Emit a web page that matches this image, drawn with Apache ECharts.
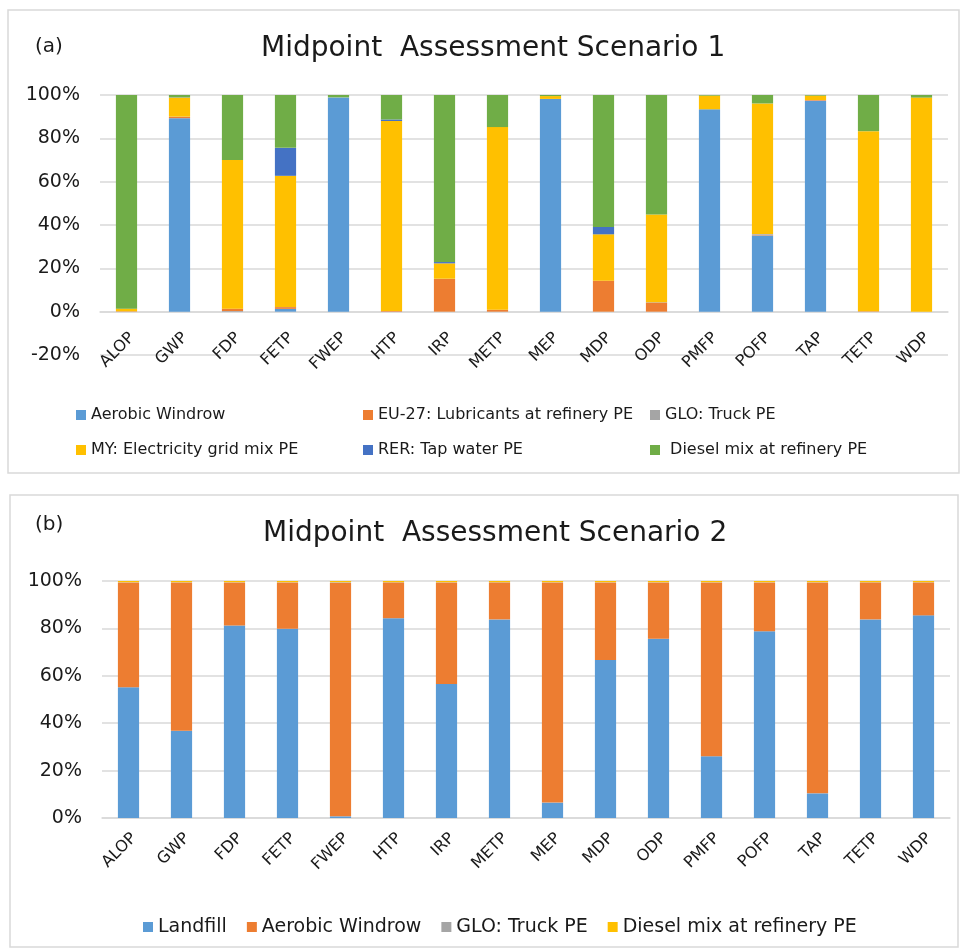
<!DOCTYPE html>
<html>
<head>
<meta charset="utf-8">
<script src="https://cdn.jsdelivr.net/npm/echarts@6/dist/echarts.min.js"></script>
<style>
  html, body { margin: 0; padding: 0; background: #fff; }
  #a { position: absolute; left: 0; top: 0; width: 964px; height: 480px; }
  #b { position: absolute; left: 0; top: 480px; width: 964px; height: 469px; }
</style>
</head>
<body>
<div id="a"></div>
<div id="b"></div>
<script>
// ---- Data ----
const categories = ['ALOP', 'GWP', 'FDP', 'FETP', 'FWEP', 'HTP', 'IRP', 'METP', 'MEP', 'MDP', 'ODP', 'PMFP', 'POFP', 'TAP', 'TETP', 'WDP'];

// Scenario 1 (percent of total)
const s1Aerobic  = [0, 89.3, 0.2, 1.3, 98.9, 0, 0, 0, 98.2, 0, 0, 93.4, 35.2, 97.4, 0, 0];
const s1Lubric   = [0.2, 0.6, 1.2, 0.8, 0, 0.3, 15.1, 0.9, 0, 14.3, 4.2, 0, 0.3, 0.3, 0.2, 0];
const s1Truck    = [0, 0.1, 0, 0.1, 0, 0, 0.1, 0, 0, 0, 0.2, 0, 0.3, 0, 0, 0];
const s1Elec     = [1.2, 8.8, 68.6, 60.5, 0, 87.7, 7.1, 84.3, 1.3, 21.4, 40.5, 6.3, 60.3, 2.0, 83.1, 98.8];
const s1Water    = [0, 0.1, 0, 12.9, 0, 0.7, 0.6, 0, 0, 3.4, 0, 0, 0, 0, 0, 0];
const s1Diesel   = [98.6, 1.1, 30.0, 24.4, 1.1, 11.3, 77.1, 14.8, 0.5, 60.9, 55.1, 0.3, 3.9, 0.3, 16.7, 1.2];

// Scenario 2 (percent of total)
const s2Landfill = [55.2, 36.8, 81.2, 79.9, 0.7, 84.3, 56.5, 83.8, 6.5, 66.7, 75.6, 26.1, 78.8, 10.4, 83.8, 85.5];
const s2Aerobic  = [44.2, 62.6, 18.2, 19.5, 98.6, 15.1, 42.9, 15.6, 92.9, 32.7, 23.8, 73.3, 20.6, 89.0, 15.6, 13.9];
const s2Truck    = [0.1, 0.1, 0.1, 0.1, 0.2, 0.1, 0.1, 0.1, 0.1, 0.1, 0.1, 0.1, 0.1, 0.1, 0.1, 0.1];
const s2Diesel   = [0.5, 0.5, 0.5, 0.5, 0.5, 0.5, 0.5, 0.5, 0.5, 0.5, 0.5, 0.5, 0.5, 0.5, 0.5, 0.5];

const yTicksA = { min: -20, max: 100, interval: 20 };
const yTicksB = { min: 0, max: 100, interval: 20 };

// ---- Styling ----
const FONT = 'DejaVu Sans';
const GRID = '#d9d9d9';
const TXT = '#1a1a1a';

function bar(name, data, color) {
  return { name, type: 'bar', stack: 'total', data, barWidth: '40%',
           itemStyle: { color }, emphasis: { disabled: true } };
}
function xAxis(offset, margin) {
  return {
    type: 'category', data: categories, offset,
    axisLine: { onZero: false, lineStyle: { color: GRID, width: 1.5 } },
    axisTick: { show: false },
    axisLabel: { rotate: 45, interval: 0, margin, verticalAlign: 'top',
                 fontFamily: FONT, fontSize: 16, color: TXT }
  };
}
function yAxis(t) {
  return {
    type: 'value', min: t.min, max: t.max, interval: t.interval,
    axisLine: { show: false }, axisTick: { show: false },
    splitLine: { lineStyle: { color: GRID, width: 1.5 } },
    axisLabel: { formatter: '{value}%', margin: 20, fontFamily: FONT, fontSize: 19, color: TXT }
  };
}
function frame(x, y, w, h) {
  return { type: 'rect', shape: { x, y, width: w, height: h }, silent: true,
           style: { fill: null, stroke: GRID, lineWidth: 1.5 } };
}
function txt(x, y, text, size) {
  return { type: 'text', x, y, silent: true,
           style: { text, fontFamily: FONT, fontSize: size, fill: TXT,
                    textAlign: 'left', textVerticalAlign: 'middle' } };
}
function legendCol(left, top, names, size, gap) {
  return { orient: 'vertical', left, top, padding: 0, itemGap: gap, itemWidth: 10, itemHeight: 10,
           icon: 'rect', data: names, selectedMode: false,
           textStyle: { fontFamily: FONT, fontSize: size, color: TXT, lineHeight: 16 } };
}

// grid A: 100% at y=95, -20% at y=355 -> 0% at 311.67
const chartA = echarts.init(document.getElementById('a'));
chartA.setOption({
  animation: false,
  graphic: [
    frame(8, 10, 951, 463),
    txt(35, 47, '(a)', 20),
    txt(261, 49, 'Midpoint  Assessment Scenario 1', 28)
  ],
  grid: { left: 100, right: 16, top: 95, bottom: 125, outerBoundsMode: 'none' },
  legend: [
    legendCol(76, 407, ['Aerobic Windrow', 'MY: Electricity grid mix PE'], 16, 19),
    legendCol(363, 407, ['EU-27: Lubricants at refinery PE', 'RER: Tap water PE'], 16, 19),
    legendCol(650, 407, ['GLO: Truck PE', ' Diesel mix at refinery PE'], 16, 19)
  ],
  xAxis: xAxis(-260 / 6, 18),
  yAxis: yAxis(yTicksA),
  series: [
    bar('Aerobic Windrow', s1Aerobic, '#5B9BD5'),
    bar('EU-27: Lubricants at refinery PE', s1Lubric, '#ED7D31'),
    bar('GLO: Truck PE', s1Truck, '#A5A5A5'),
    bar('MY: Electricity grid mix PE', s1Elec, '#FFC000'),
    bar('RER: Tap water PE', s1Water, '#4472C4'),
    bar(' Diesel mix at refinery PE', s1Diesel, '#70AD47')
  ]
});

const chartB = echarts.init(document.getElementById('b'));
chartB.setOption({
  animation: false,
  graphic: [
    frame(10, 15, 948, 452),
    txt(35, 45, '(b)', 20),
    txt(263, 54, 'Midpoint  Assessment Scenario 2', 28)
  ],
  grid: { left: 102, right: 14, top: 101, bottom: 131, outerBoundsMode: 'none' },
  legend: {
    orient: 'horizontal', left: 143, top: 437, padding: 0, itemGap: 20, itemWidth: 10, itemHeight: 10,
    icon: 'rect', selectedMode: false,
    data: ['Landfill', 'Aerobic Windrow', 'GLO: Truck PE', 'Diesel mix at refinery PE'],
    textStyle: { fontFamily: FONT, fontSize: 19, color: TXT, lineHeight: 20 }
  },
  xAxis: xAxis(0, 12),
  yAxis: yAxis(yTicksB),
  series: [
    bar('Landfill', s2Landfill, '#5B9BD5'),
    bar('Aerobic Windrow', s2Aerobic, '#ED7D31'),
    bar('GLO: Truck PE', s2Truck, '#A5A5A5'),
    bar('Diesel mix at refinery PE', s2Diesel, '#FFC000')
  ]
});
</script>
</body>
</html>
